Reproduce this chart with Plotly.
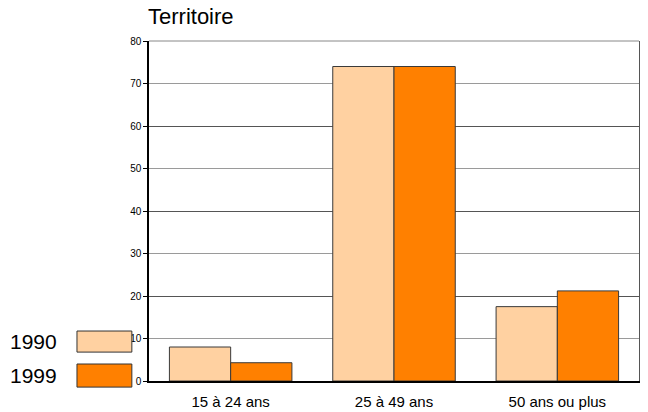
import plotly.graph_objects as go

categories = ["15 à 24 ans", "25 à 49 ans", "50 ans ou plus"]
series_names = ["1990", "1999"]
values_1990 = [8.0, 74.0, 17.5]
values_1999 = [4.3, 74.0, 21.2]
colors = ["#FFD1A1", "#FF8000"]
y_ticks = [0, 10, 20, 30, 40, 50, 60, 70, 80]

fig = go.Figure()
for name, vals, col in zip(series_names, [values_1990, values_1999], colors):
    fig.add_trace(go.Bar(
        x=categories, y=vals, name=name, marker_color=col,
        marker_line=dict(color="#3a3a3a", width=1), showlegend=False,
    ))

# overlay axis for darker gridlines every 20
fig.add_trace(go.Scatter(x=categories, y=[None]*3, yaxis="y2", showlegend=False, hoverinfo="skip"))

# page body has an 8px default margin, so the figure is 8px smaller than the window
fig.update_layout(
    width=640, height=404,
    margin=dict(l=141, r=9, t=33, b=31, autoexpand=False),
    paper_bgcolor="white", plot_bgcolor="white",
    barmode="group", bargap=0.25, bargroupgap=0,
    font=dict(family="Liberation Sans, Arial, sans-serif", color="black"),
    xaxis=dict(
        showline=True, linecolor="black", linewidth=1.5, mirror=False,
        showgrid=False, ticks="", tickfont=dict(size=15), ticklabelstandoff=6,
        automargin=False,
    ),
    yaxis=dict(
        range=[0, 80], tickvals=y_ticks, ticktext=[str(v) for v in y_ticks],
        showgrid=True, gridcolor="#9a9a9a", gridwidth=1,
        showline=True, linecolor="black", linewidth=1.5,
        ticks="outside", ticklen=4, tickcolor="black",
        tickfont=dict(size=10), zeroline=False, automargin=False,
    ),
    yaxis2=dict(
        range=[0, 80], dtick=20, overlaying="y", side="right",
        showgrid=True, gridcolor="#555555", gridwidth=1,
        showticklabels=False, showline=True, linecolor="#555555", linewidth=1.5,
        zeroline=False, automargin=False,
    ),
    shapes=[
        dict(type="line", xref="paper", yref="paper", x0=0, x1=1, y0=1, y1=1,
             line=dict(color="#888888", width=1)),
        dict(type="rect", xref="paper", yref="paper", x0=-0.147, x1=-0.035, y0=0.147, y1=0.085,
             fillcolor=colors[0], line=dict(color="#333333", width=1)),
        dict(type="rect", xref="paper", yref="paper", x0=-0.147, x1=-0.035, y0=0.05, y1=-0.018,
             fillcolor=colors[1], line=dict(color="#333333", width=1)),
    ],
    annotations=[
        dict(text="Territoire", xref="paper", yref="paper", x=-0.006, y=1.03,
             xanchor="left", yanchor="bottom", showarrow=False, font=dict(size=22)),
        dict(text=series_names[0], xref="paper", yref="paper", x=-0.287, y=0.115,
             xanchor="left", yanchor="middle", showarrow=False, font=dict(size=21)),
        dict(text=series_names[1], xref="paper", yref="paper", x=-0.287, y=0.015,
             xanchor="left", yanchor="middle", showarrow=False, font=dict(size=21)),
    ],
)

fig.write_html("out.html")
